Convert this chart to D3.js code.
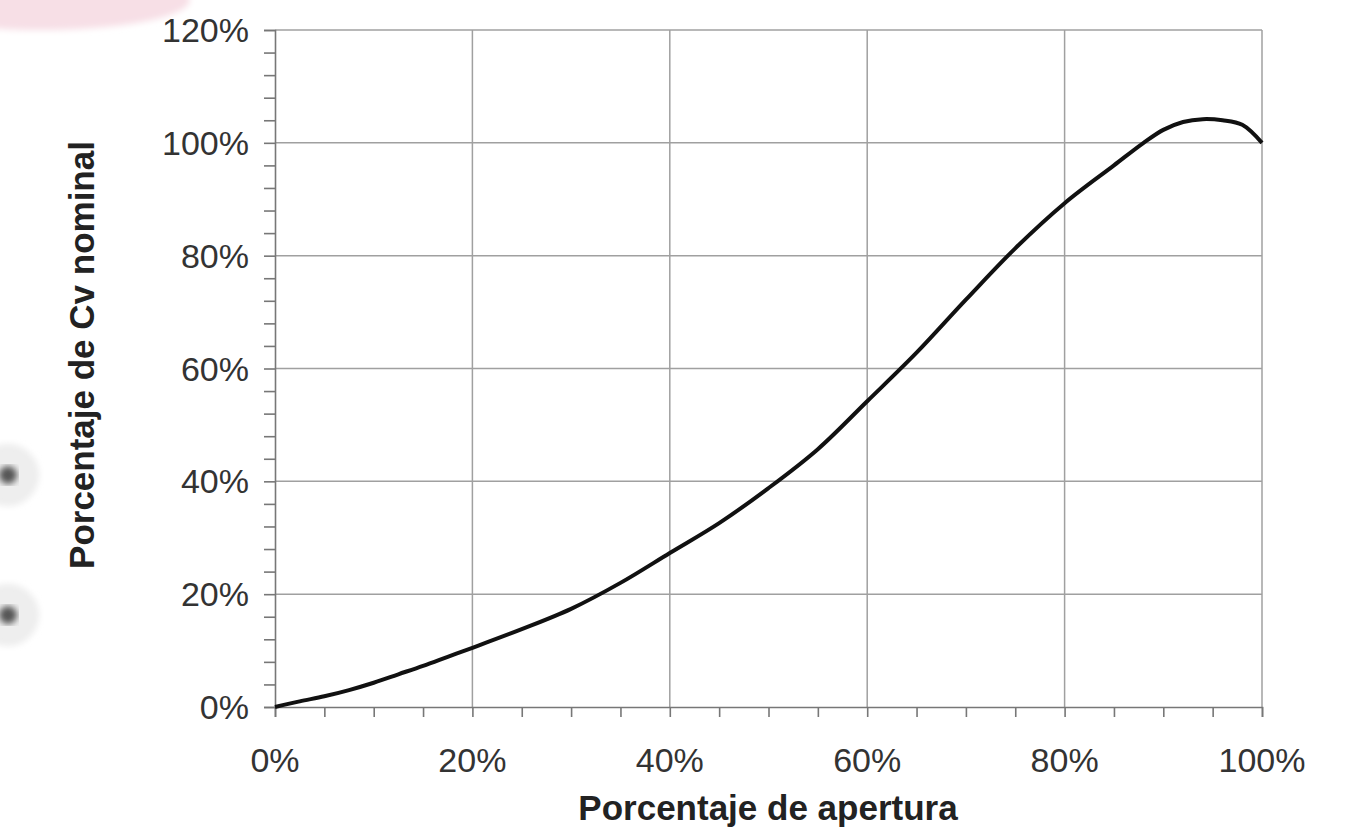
<!DOCTYPE html>
<html><head><meta charset="utf-8">
<script src="https://cdn.jsdelivr.net/npm/d3@7"></script>
<style>body{margin:0;background:#fff}svg{display:block}</style>
</head><body>
<svg id="c" width="1355" height="834"></svg>
<script>
const apertura = [0,2.5,5,7.5,10,12.5,15,17.5,20,25,30,35,40,45,50,55,60,65,70,75,80,85,88,90,92,94,96,98,100];
const cvNominal = [0,1.0,1.9,3.0,4.3,5.8,7.3,8.9,10.5,13.8,17.4,22.0,27.3,32.6,38.8,45.7,54.2,62.8,72.2,81.3,89.3,96,100,102.3,103.7,104.2,104,103.2,100];
const xTicks = [0,20,40,60,80,100];
const yTicks = [0,20,40,60,80,100,120];
const xTitle = "Porcentaje de apertura";
const yTitle = "Porcentaje de Cv nominal";

const svg = d3.select("#c");
const L=275,R=1262,T=30,B=707;
const x = d3.scaleLinear().domain([0,100]).range([L,R]);
const y = d3.scaleLinear().domain([0,120]).range([B,T]);

// background decorations (photo artifacts)
const defs = svg.append("defs");
const f = defs.append("filter").attr("id","blur");
f.append("feGaussianBlur").attr("stdDeviation",3);
svg.append("ellipse").attr("cx",40).attr("cy",0).attr("rx",150).attr("ry",30).attr("fill","#f7dfe6").attr("filter","url(#blur)");
[475,615].forEach(cy=>{
  svg.append("circle").attr("cx",8).attr("cy",cy).attr("r",30).attr("fill","#eeeeee").attr("stroke","#dddddd").attr("filter","url(#blur)");
  svg.append("circle").attr("cx",8).attr("cy",cy).attr("r",9).attr("fill","#555").attr("filter","url(#blur)");
});

// grid
const grid = svg.append("g").attr("stroke","#a0a0a0").attr("stroke-width",1.5);
grid.selectAll(".gx").data(xTicks.filter(d=>d>0)).join("line")
  .attr("x1",d=>x(d)).attr("x2",d=>x(d)).attr("y1",T).attr("y2",B);
grid.selectAll(".gy").data(yTicks.filter(d=>d>0)).join("line")
  .attr("x1",L).attr("x2",R).attr("y1",d=>y(d)).attr("y2",d=>y(d));

// axes
const xAxis = d3.axisBottom(x).tickValues(d3.range(0,101,5)).tickSize(10).tickFormat("");
const gx = svg.append("g").attr("transform",`translate(0,${B})`).call(xAxis);
const yAxis = d3.axisLeft(y).tickValues(d3.range(0,121,4)).tickSize(11).tickFormat("");
const gy = svg.append("g").attr("transform",`translate(${L},0)`).call(yAxis);
[gx,gy].forEach(g=>{g.selectAll("path,line").attr("stroke","#777").attr("stroke-width",1.6);});

const lab = svg.append("g").attr("font-family","Liberation Sans, Arial, sans-serif").attr("font-size",34).attr("fill","#333");
lab.selectAll(".xl").data(xTicks).join("text").attr("x",d=>x(d)).attr("y",772).attr("text-anchor","middle").text(d=>d+"%");
lab.selectAll(".yl").data(yTicks).join("text").attr("x",249).attr("y",d=>y(d)+12).attr("text-anchor","end").text(d=>d+"%");

svg.append("text").attr("x",768).attr("y",820).attr("text-anchor","middle")
  .attr("font-family","Liberation Sans, Arial, sans-serif").attr("font-weight","bold").attr("font-size",35).attr("fill","#222").text(xTitle);
svg.append("text").attr("transform","translate(94,355) rotate(-90)").attr("text-anchor","middle")
  .attr("font-family","Liberation Sans, Arial, sans-serif").attr("font-weight","bold").attr("font-size",35).attr("fill","#222").text(yTitle);

// curve
const line = d3.line().x((d,i)=>x(apertura[i])).y(d=>y(d)).curve(d3.curveCatmullRom.alpha(0.5));
svg.append("path").datum(cvNominal).attr("d",line).attr("fill","none").attr("stroke","#111").attr("stroke-width",4).attr("stroke-linejoin","round");
</script>
</body></html>
